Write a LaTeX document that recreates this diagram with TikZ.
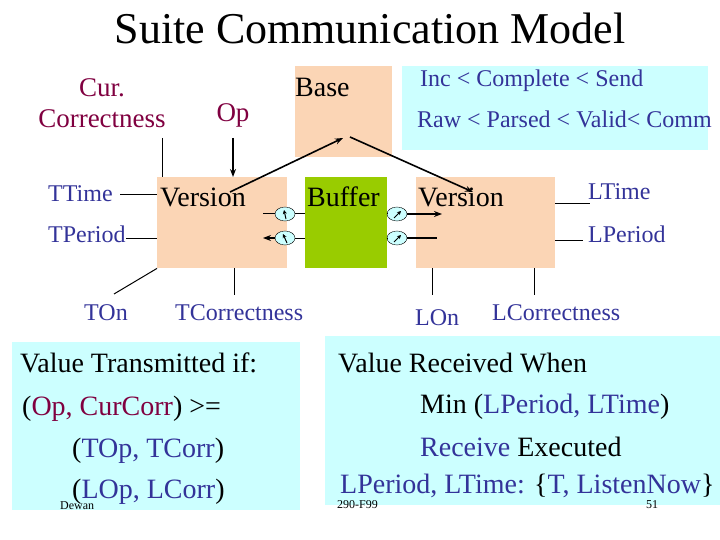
\documentclass[tikz,border=0pt]{standalone}
\usepackage{fontspec}
\setmainfont{Liberation Serif}
\usepackage{tikz}
\usetikzlibrary{arrows.meta,positioning,calc,shapes.geometric}
\definecolor{peach}{RGB}{251,213,181}
\definecolor{bufgreen}{RGB}{153,204,0}
\definecolor{pale}{RGB}{204,255,255}
\definecolor{plum}{RGB}{128,0,64}
\definecolor{navy}{RGB}{51,51,153}
\tikzset{
  blk/.style={fill=#1,inner sep=0pt,anchor=north west},
  blk/.default={peach},
  arr/.style={-{Stealth[length=8pt,width=6pt]},line width=1.6pt},
  wire/.style={line width=1pt},
  txt/.style={inner sep=0pt,anchor=base west,font=\fontsize{28}{30}\selectfont},
  lbl/.style={inner sep=0pt,anchor=base west,text=navy,font=\fontsize{24}{26}\selectfont},
  hdr/.style={inner sep=0pt,anchor=base,text=plum,font=\fontsize{27}{28}\selectfont},
  tiny/.style={inner sep=0pt,anchor=base west,font=\fontsize{12}{13}\selectfont},
  port/.style={draw,ellipse,fill=pale,minimum width=20pt,minimum height=14pt,inner sep=0pt,thin},
  needle/.style={-{Stealth[length=4pt,width=4pt]},line width=1pt},
}

\begin{document}
\begin{tikzpicture}[x=1pt,y=-1pt]
 \useasboundingbox (0,0) rectangle (720,540);
 \node[inner sep=0pt,anchor=base,font=\fontsize{44}{48}\selectfont] (title) at (370,44) {Suite Communication Model};

 \node[blk=pale,minimum width=306pt,minimum height=84pt] (order) at (402,66) {};
 \node[blk=pale,minimum width=288pt,minimum height=168pt] (send) at (12,342) {};
 \node[blk=pale,minimum width=395pt,minimum height=169pt] (recv) at (325,336) {};
 \node[blk,minimum width=97pt,minimum height=91pt] (base) at (295,66) {};
 \node[blk,minimum width=130pt,minimum height=91pt] (tver) at (157,177) {};
 \node[blk=bufgreen,minimum width=82pt,minimum height=91pt] (buf) at (305,177) {};
 \node[blk,minimum width=139pt,minimum height=91pt] (lver) at (416,177) {};

 \node[txt] (basetxt) at (295,97) {Base};
 \node[txt] (tvertxt) at (160,207) {Version};
 \node[txt] (buftxt) at (307,207) {Buffer};
 \node[txt] (lvertxt) at (418,207) {Version};
 \node[lbl] (inc) at (420,87) {Inc < Complete < Send};
 \node[lbl] (raw) at (417,128) {Raw < Parsed < Valid< Comm};

 \node[hdr] (cur) at (102,97) {Cur.};
 \node[hdr] (corr) at (102,128) {Correctness};
 \node[hdr] (op) at (233,122) {Op};
 \node[lbl] (ttime) at (48,202) {TTime};
 \node[lbl] (tper) at (48,243) {TPeriod};
 \node[lbl] (ltime) at (588,200) {LTime};
 \node[lbl] (lper) at (588,242) {LPeriod};
 \node[lbl] (ton) at (84,320) {TOn};
 \node[lbl] (tcor) at (175,320) {TCorrectness};
 \node[lbl] (lon) at (415,325) {LOn};
 \node[lbl] (lcor) at (492,320) {LCorrectness};

 \coordinate (corrdn) at (162,138);
 \coordinate (opdn) at (233,138);
 \coordinate (tvout) at (230,192);
 \coordinate (basein) at (343,138);
 \coordinate (baseout) at (350,137);
 \coordinate (lvin) at (473,192);
 \draw[wire] (corrdn) -- (corrdn |- tver.north);
 \draw[arr] (opdn) -- (opdn |- tver.north);
 \draw[arr] (tvout) -- (basein);
 \draw[arr] (baseout) -- (lvin);

 \coordinate (tt) at (120,195);
 \coordinate (tp) at (126,238);
 \draw[wire] (tt) -- (tt -| tver.west);
 \draw[wire] (tp) -- (tp -| tver.west);
 \coordinate (lt) at (590,204);
 \coordinate (lp) at (583,240);
 \draw[wire] (lt -| lver.east) -- (lt);
 \draw[wire] (lp -| lver.east) -- (lp);

 \coordinate (onend) at (114,294);
 \coordinate (tcend) at (234,295);
 \coordinate (loend) at (432,295);
 \coordinate (lcend) at (534,295);
 \draw[wire] (tver.south west) -- (onend);
 \draw[wire] (tcend |- tver.south) -- (tcend);
 \draw[wire] (loend |- lver.south) -- (loend);
 \draw[wire] (lcend |- lver.south) -- (lcend);

 \node[port] (pt1) at (285,214) {};
 \node[port] (pt2) at (285,238) {};
 \node[port] (pr1) at (397,214) {};
 \node[port] (pr2) at (397,238) {};
 \coordinate (tv1) at (263,214);
 \coordinate (tv2) at (263,238);
 \coordinate (lv1) at (442,214);
 \coordinate (lv2) at (437,238);
 \draw[wire] (tv1) -- (pt1.west);
 \draw[wire] (pt1.east) -- (pt1 -| buf.west);
 \draw[wire] (pt2.east) -- (pt2 -| buf.west);
 \draw[arr] (pt2.west) -- (tv2);
 \draw[wire] (pr1 -| buf.east) -- (pr1.west);
 \draw[wire] (pr2 -| buf.east) -- (pr2.west);
 \draw[arr] (pr1.east) -- (lv1);
 \draw[wire,line width=1.6pt] (pr2.east) -- (lv2);
 \draw[needle] ($(pt1.center)+(1,5)$) -- ($(pt1.center)+(-1,-4)$);
 \draw[needle] ($(pt2.center)+(2,5)$) -- ($(pt2.center)+(-2,-4)$);
 \draw[needle] ($(pr1.center)+(-3,4)$) -- ($(pr1.center)+(4,-3)$);
 \draw[needle] ($(pr2.center)+(-3,4)$) -- ($(pr2.center)+(4,-3)$);

 \node[txt] (s1) at (20,372) {Value Transmitted if:};
 \node[txt] (s2) at (22,415) {(\textcolor{plum}{Op, CurCorr}) >=};
 \node[txt] (s3) at (72,457) {(\textcolor{navy}{TOp, TCorr})};
 \node[txt] (s4) at (72,498) {(\textcolor{navy}{LOp, LCorr})};
 \node[tiny] (dewan) at (60,509) {Dewan};
 \node[txt] (r1) at (338,372) {Value Received When};
 \node[txt] (r2) at (420,413) {Min (\textcolor{navy}{LPeriod, LTime})};
 \node[txt] (r3) at (420,456) {\textcolor{navy}{Receive} Executed};
 \node[txt,text=navy] (r4) at (340,493) {LPeriod, LTime: \textcolor{black}{\{}T, ListenNow\textcolor{black}{\}}};
 \node[tiny] (f99) at (337,508) {290-F99};
 \node[tiny] (pg) at (646,508) {51};
\end{tikzpicture}
\end{document}
